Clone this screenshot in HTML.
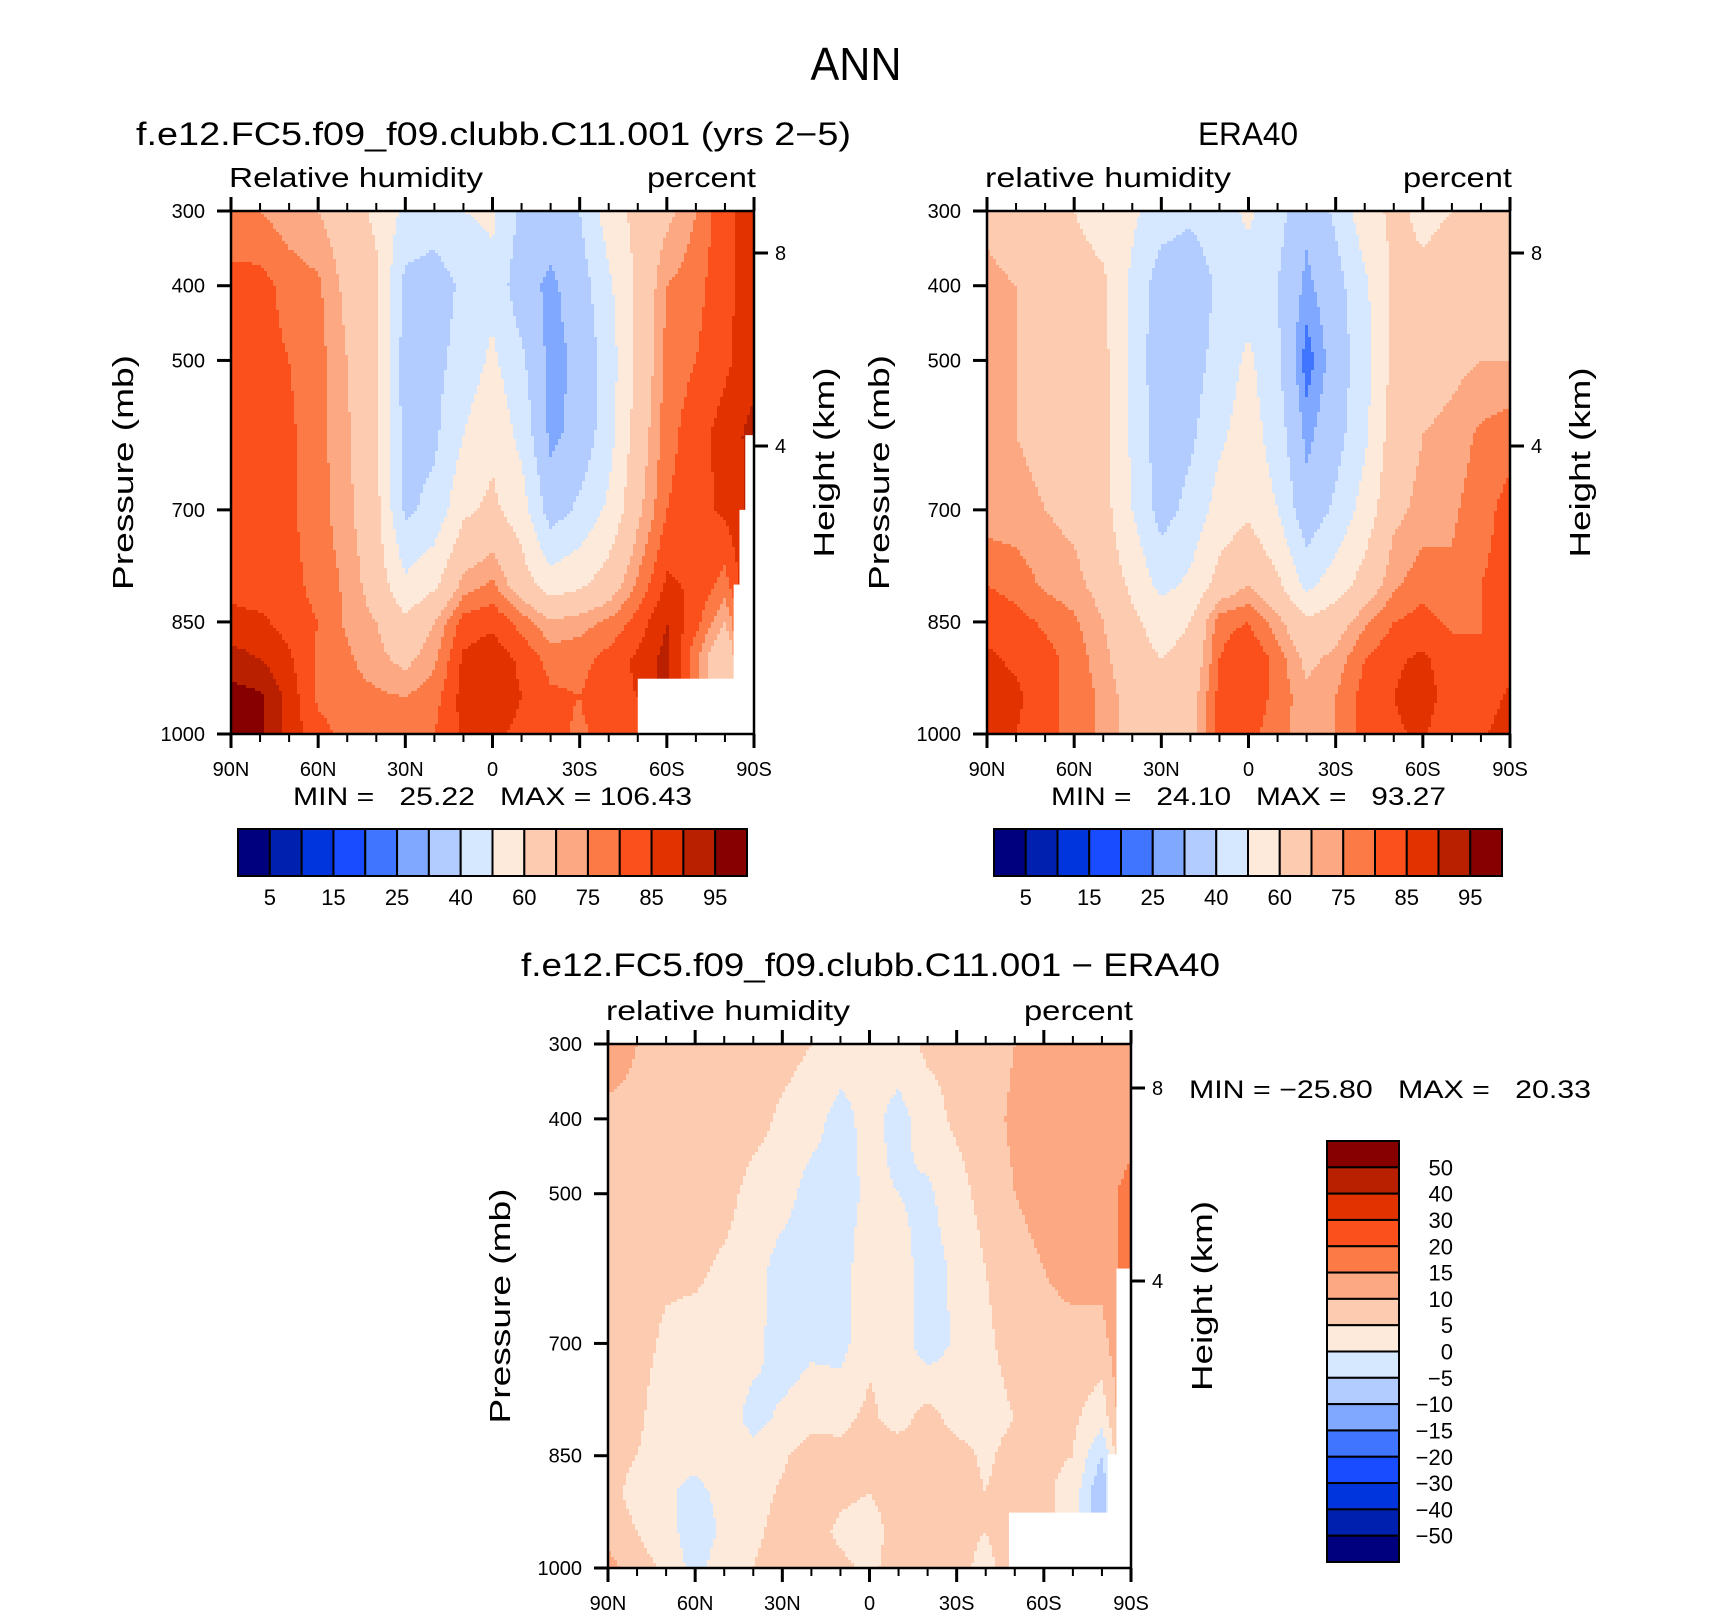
<!DOCTYPE html>
<html><head><meta charset="utf-8"><style>
html,body{margin:0;padding:0;background:#fff}
svg{display:block}
text{font-family:"Liberation Sans",sans-serif;fill:#000;white-space:pre}
</style></head><body>
<svg id="fig" width="1710" height="1616" viewBox="0 0 1710 1616" xmlns="http://www.w3.org/2000/svg">
<text x="856" y="80" font-size="46" text-anchor="middle" textLength="91" lengthAdjust="spacingAndGlyphs">ANN</text>
</svg>
<script>
// ---------- data ----------
const pressures=[300,400,500,600,700,800,850,900,950,1000];
const lats=[90,80,70,60,50,40,30,20,10,0,-10,-20,-30,-40,-50,-60,-70,-80,-90];
const latTickLabels=["90N","60N","30N","0","30S","60S","90S"];
const pressureTickLabels=[300,400,500,700,850,1000];
const heightTickLabels=[8,4];
const levelsRH=[5,10,15,20,25,30,40,50,60,70,75,80,85,90,95];
const levelsDiff=[-50,-40,-30,-20,-15,-10,-5,0,5,10,15,20,30,40,50];
const colorbarLabelsRH=["5","15","25","40","60","75","85","95"];
const colorbarLabelsDiff=["50","40","30","20","15","10","5","0","\u22125","\u221210","\u221215","\u221220","\u221230","\u221240","\u221250"];
// model RH, one row per latitude (90N..90S), values at pressures
const modelRH=[
[76,82,82,82,82,83,87,92,97,97],
[75,82,82,82,82,82,86,90,96,96],
[72,78,80,81,81,82,83,86,88,88],
[70,76,77,77,77,78,80,79,79,82],
[65,68,70,71,72,74,74,76,77,78],
[58,62,62,62,63,66,70,72,76,77],
[48,37,35,36,38,52,62,68,75,77],
[45,35,37,38,43,58,70,74,78,80],
[50,42,44,50,58,72,82,86,87,86],
[52,47,52,58,62,76,84,88,88,86],
[38,34,42,47,55,65,78,84,85,84],
[35,28,27,28,35,55,71,78,81,82],
[40,35,32,33,42,58,73,78,80,79],
[55,48,45,46,52,65,76,82,84,82],
[63,62,62,65,68,76,82,86,85,85],
[68,75,77,78,80,86,90,92,92,92],
[75,78,80,83,83,84,82,76,76,76],
[84,84,84,87,86,78,70,60,60,60],
[87,87,88,92,92,92,92,92,92,92]];
const eraRH=[
[68,72,72,72,72,80,83,86,88,87],
[65,70,70,70,72,78,82,84,86,85],
[62,67,67,68,70,74,79,82,82,82],
[60,65,65,65,68,72,76,78,78,78],
[55,62,63,63,64,67,70,72,74,74],
[52,48,47,48,50,58,62,64,66,66],
[45,34,33,34,36,47,56,60,62,63],
[42,33,35,38,43,52,60,63,66,67],
[46,42,44,48,54,64,78,80,82,82],
[52,45,52,55,58,70,80,85,84,82],
[44,40,42,45,50,62,72,78,78,77],
[32,28,22,28,33,47,62,68,72,72],
[42,36,34,36,42,55,66,72,75,75],
[56,48,46,48,54,64,74,80,82,82],
[62,62,63,65,68,74,80,84,85,84],
[58,62,66,70,72,78,82,86,88,86],
[60,64,68,72,74,76,79,82,82,80],
[62,66,70,76,78,80,80,80,82,84],
[62,66,70,78,82,82,82,83,86,88]];
const diffRH=[
[14,8,8,8,8,8,7,7,8,12],
[10,8,7,7,7,6,5,3,5,7],
[8,7,7,6,4,2,2,1,2,4],
[8,8,8,6,3,2,2,-2,-3,-2],
[8,8,7,4,3,3,4,2,1,3],
[8,7,3,2,2,-2,2,2,3,5],
[7,4,2,-2,-3,1,4,6,8,10],
[5,2,-2,-3,-1,3,8,8,7,8],
[3,-2,-2,-2,-2,4,6,6,4,6],
[2,2,1,3,4,6,7,5,3,4],
[3,-2,0,2,3,3,8,7,7,7],
[6,3,-1,-2,-3,7,8,8,8,9],
[6,6,3,1,1,3,7,7,6,6],
[7,8,7,5,4,3,4,5,5,4],
[10,11,10,8,7,5,7,8,7,7],
[10,12,12,10,8,5,6,6,6,6],
[12,12,12,12,8,6,5,3,3,3],
[12,12,14,12,8,2,-5,-10,-10,-10],
[12,14,16,17,17,17,17,17,17,17]];
const colors=["#00007f","#0020b0","#0035dd","#1a4cff","#4075ff","#80a8ff","#b3ccff","#d6e8ff","#feeadb","#fdcbb0","#fca882","#fc7a46","#fc501c","#e23200","#b82000","#860000"];

// ---------- rendering ----------
const NS="http://www.w3.org/2000/svg";
const svg=document.getElementById('fig');
function el(tag,attrs,parent){const e=document.createElementNS(NS,tag);for(const k in attrs)e.setAttribute(k,attrs[k]);(parent||svg).appendChild(e);return e;}
function txt(s,attrs,parent){const t=el('text',attrs,parent);t.textContent=s;return t;}

function valueAt(grid,lat,p){
  let fi=(90-lat)/10; if(fi<0)fi=0; if(fi>18)fi=18;
  let i0=Math.floor(fi); if(i0>=18)i0=17; const tx=fi-i0;
  let j0=0; while(j0<pressures.length-2 && p>pressures[j0+1]) j0++;
  let ty=(p-pressures[j0])/(pressures[j0+1]-pressures[j0]); ty=Math.max(0,Math.min(1,ty));
  const a=grid[i0][j0],b=grid[i0+1][j0],c=grid[i0][j0+1],d=grid[i0+1][j0+1];
  return (a*(1-tx)+b*tx)*(1-ty)+(c*(1-tx)+d*tx)*ty;
}
function classify(v,levels){let k=0;while(k<levels.length&&v>=levels[k])k++;return k;}

function drawPanel(cfg){
  const g=el('g',{});
  
  
  const L=cfg.x,T=cfg.y,W=cfg.w,H=cfg.h;
  const xOf=lat=>L+(90-lat)/180*W;
  const yOf=p=>T+(p-300)/700*H;
  const field=el('g',{'shape-rendering':'crispEdges'},g);
  
  
  const step=3;
  for(let py=0;py<H;py+=step){
    const p=300+(py+step/2)/H*700;
    let runStart=0,runC=-1;
    const flush=(end)=>{if(runC>=0){const r=el('rect',{x:L+runStart,y:T+py,width:end-runStart+0.6,height:Math.min(step,H-py)+0.6,fill:colors[runC]},field);
      
      }};
    for(let px=0;px<W;px+=step){
      const lat=90-(px+step/2)/W*180;
      const c=classify(valueAt(cfg.grid,lat,p),cfg.levels);
      if(c!==runC){flush(px);runStart=px;runC=c;}
    }
    flush(W);
  }
  cfg.masks.forEach(m=>{
    const r=el('rect',{x:xOf(m[0]),y:yOf(m[2]),width:xOf(m[1])-xOf(m[0])+1,height:yOf(m[3])-yOf(m[2])+1,fill:'#fff'},g);
    
    
  });
  const fr=el('rect',{x:L,y:T,width:W,height:H,fill:'none',stroke:'#000','stroke-width':2.5},g);
  
  
  for(let k=0;k<=18;k++){
    const x=L+k/18*W, major=(k%3===0), len=major?14:8;
    el('line',{x1:x,y1:T+H,x2:x,y2:T+H+len,stroke:'#000','stroke-width':major?3:2},g);
    el('line',{x1:x,y1:T,x2:x,y2:T-len,stroke:'#000','stroke-width':major?3:2},g);
  }
  latTickLabels.forEach((s,k)=>{
    const t=txt(s,{x:L+k/6*W,y:T+H+42,'font-size':20,'text-anchor':'middle'},g);
    
    
  });
  pressureTickLabels.forEach(pv=>{
    const y=yOf(pv);
    el('line',{x1:L-14,y1:y,x2:L,y2:y,stroke:'#000','stroke-width':3},g);
    const t=txt(String(pv),{x:L-26,y:y+7,'font-size':20,'text-anchor':'end'},g);
    
    
  });
  heightTickLabels.forEach((h,k)=>{
    const y=cfg.hY[k];
    el('line',{x1:L+W,y1:y,x2:L+W+14,y2:y,stroke:'#000','stroke-width':3},g);
    const t=txt(String(h),{x:L+W+21,y:y+7,'font-size':20},g);
    
    
  });
  const yl=txt('Pressure (mb)',{x:0,y:0,'font-size':29,'text-anchor':'middle',textLength:235,lengthAdjust:'spacingAndGlyphs',transform:`translate(${cfg.pLabX},${T+H/2}) rotate(-90)`},g);
  
  
  const hl=txt('Height (km)',{x:0,y:0,'font-size':29,'text-anchor':'middle',textLength:190,lengthAdjust:'spacingAndGlyphs',transform:`translate(${cfg.hLabX},${T+H/2-10}) rotate(-90)`},g);
  
  
  const lt=txt(cfg.left,{x:L-2,y:T-24,'font-size':28,textLength:cfg.leftLen,lengthAdjust:'spacingAndGlyphs'},g);
  
  
  const rt=txt('percent',{x:L+W+2,y:T-24,'font-size':28,'text-anchor':'end',textLength:109,lengthAdjust:'spacingAndGlyphs'},g);
  
  
  const st=txt(cfg.title,{x:cfg.titleX,y:cfg.titleY,'font-size':32,textLength:cfg.titleLen,lengthAdjust:'spacingAndGlyphs'},g);
  
  
  const mm=txt(cfg.minmax,{x:cfg.mmX,y:cfg.mmY,'font-size':25,textLength:cfg.mmLen,lengthAdjust:'spacingAndGlyphs'},g);
  
  
}

function hColorbar(x,y,w,h,name){
  const g=el('g',{});
  
  
  const bw=w/16;
  colors.forEach((c,k)=>{
    const r=el('rect',{x:x+k*bw,y:y,width:bw,height:h,fill:c,stroke:'#000','stroke-width':2},g);
    
    
  });
  colorbarLabelsRH.forEach((s,k)=>{
    const t=txt(s,{x:x+(2*k+1)*bw,y:y+h+29,'font-size':22,'text-anchor':'middle'},g);
    
    
  });
}
function vColorbar(x,y,w,h){
  const g=el('g',{});
  
  
  const bh=h/16;
  colors.slice().reverse().forEach((c,k)=>{
    const r=el('rect',{x:x,y:y+k*bh,width:w,height:bh,fill:c,stroke:'#000','stroke-width':2},g);
    
    
  });
  colorbarLabelsDiff.forEach((s,k)=>{
    const t=txt(s,{x:1453,y:y+(k+1)*bh+8,'font-size':22,'text-anchor':'end'},g);
    
    
  });
}

drawPanel({name:'model-panel',grid:modelRH,levels:levelsRH,x:231,y:211,w:523,h:523,
  masks:[[-50,-90,926,1000],[-87,-90,600,1000],[-85,-90,700,1000],[-83,-90,800,1000]],
  hY:[253,446],pLabX:133,hLabX:834,left:'Relative humidity',leftLen:254,
  title:'f.e12.FC5.f09_f09.clubb.C11.001 (yrs 2\u22125)',titleX:136,titleY:145,titleLen:715,
  minmax:'MIN =   25.22   MAX = 106.43',mmX:293,mmY:805,mmLen:399});
drawPanel({name:'era40-panel',grid:eraRH,levels:levelsRH,x:987,y:211,w:523,h:523,
  masks:[],hY:[253,446],pLabX:889,hLabX:1590,left:'relative humidity',leftLen:246,
  title:'ERA40',titleX:1198,titleY:145,titleLen:100,
  minmax:'MIN =   24.10   MAX =   93.27',mmX:1051,mmY:805,mmLen:395});
drawPanel({name:'difference-panel',grid:diffRH,levels:levelsDiff,x:608,y:1044,w:523,h:524,
  masks:[[-48,-90,926,1000],[-85,-90,600,1000],[-82,-90,848,1000]],
  hY:[1088,1281],pLabX:510,hLabX:1212,left:'relative humidity',leftLen:244,
  title:'f.e12.FC5.f09_f09.clubb.C11.001 \u2212 ERA40',titleX:521,titleY:976,titleLen:699,
  minmax:'MIN = \u221225.80   MAX =   20.33',mmX:1189,mmY:1098,mmLen:402});
hColorbar(238,829,509,47,'model-colorbar');
hColorbar(994,829,508,47,'era40-colorbar');
vColorbar(1327,1141,72,421);
</script>
</body></html>
